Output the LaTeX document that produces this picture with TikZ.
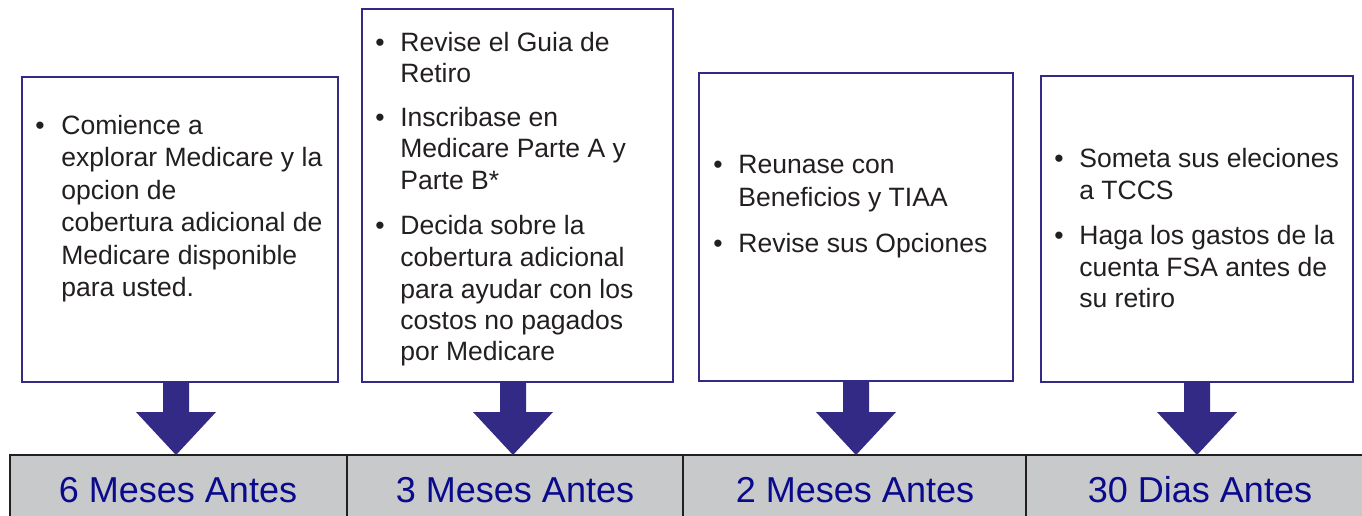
\documentclass[tikz,border=0pt]{standalone}
\usepackage{fontspec}
\setmainfont{Liberation Sans}
\definecolor{boxline}{RGB}{51,42,134}
\definecolor{txt}{RGB}{35,31,32}
\definecolor{lab}{RGB}{10,10,140}
\definecolor{band}{RGB}{200,201,203}
\definecolor{bandline}{RGB}{35,31,32}
\tikzset{
  stagebox/.style={draw=boxline, line width=1.2pt, fill=white},
  ln/.style={anchor=base west, inner sep=0pt, text=txt, font=\fontsize{15.1}{18}\selectfont},
  bul/.style={anchor=base west, inner sep=0pt, text=txt, font=\fontsize{15.1}{18}\selectfont},
  downarrow/.style={fill=boxline, draw=none},
  cell/.style={draw=bandline, line width=1.2pt, fill=band},
  lbl/.style={inner sep=0pt, anchor=base, text=lab, font=\fontsize{20.5}{24}\selectfont}
}
\begin{document}
\begin{tikzpicture}[x=0.02cm, y=-0.02cm]
\useasboundingbox (0,0) rectangle (1362,515);
% bottom band
\draw[cell] (10,455) rectangle (347,530);
\draw[cell] (347,455) rectangle (683,530);
\draw[cell] (683,455) rectangle (1026,530);
\draw[cell] (1026,455) rectangle (1370,530);
\node[lbl] (l1) at (178,502) {6 Meses Antes};
\node[lbl] (l2) at (515,502) {3 Meses Antes};
\node[lbl] (l3) at (855,502) {2 Meses Antes};
\node[lbl] (l4) at (1200,502) {30 Dias Antes};
% arrows
\foreach \c/\n in {176/a1,513/a2,856/a3,1197/a4}{
  \fill[downarrow] (\c-13,381) -- (\c+13,381) -- (\c+13,412) -- (\c+40,412)
    -- (\c,455) -- (\c-40,412) -- (\c-13,412) -- cycle;
}
% boxes
\draw[stagebox] (22,77) rectangle (338,382);
\draw[stagebox] (362,9) rectangle (673,382);
\draw[stagebox] (699,73) rectangle (1013,381);
\draw[stagebox] (1041,76) rectangle (1353,382);
% box 1
\node[bul] (b1a) at (35,134) {•};
\node[ln] (t1a) at (61,134) {Comience a};
\node[ln] (t1b) at (61,166) {explorar Medicare y la};
\node[ln] (t1c) at (61,199) {opcion de};
\node[ln] (t1d) at (61,231) {cobertura adicional de};
\node[ln] (t1e) at (61,264) {Medicare disponible};
\node[ln] (t1f) at (61,296) {para usted.};
% box 2
\node[bul] (b2a) at (375,51) {•};
\node[ln] (t2a) at (400,51) {Revise el Guia de};
\node[ln] (t2b) at (400,82) {Retiro};
\node[bul] (b2b) at (375,126) {•};
\node[ln] (t2c) at (400,126) {Inscribase en};
\node[ln] (t2d) at (400,157) {Medicare Parte A y};
\node[ln] (t2e) at (400,189) {Parte B*};
\node[bul] (b2c) at (375,234) {•};
\node[ln] (t2f) at (400,234) {Decida sobre la};
\node[ln] (t2g) at (400,266) {cobertura adicional};
\node[ln] (t2h) at (400,298) {para ayudar con los};
\node[ln] (t2i) at (400,329) {costos no pagados};
\node[ln] (t2j) at (400,360) {por Medicare};
% box 3
\node[bul] (b3a) at (713,173) {•};
\node[ln] (t3a) at (738,173) {Reunase con};
\node[ln] (t3b) at (738,206) {Beneficios y TIAA};
\node[bul] (b3b) at (713,252) {•};
\node[ln] (t3c) at (738,252) {Revise sus Opciones};
% box 4
\node[bul] (b4a) at (1054,167) {•};
\node[ln] (t4a) at (1079,167) {Someta sus eleciones};
\node[ln] (t4b) at (1079,199) {a TCCS};
\node[bul] (b4b) at (1054,244) {•};
\node[ln] (t4c) at (1079,244) {Haga los gastos de la};
\node[ln] (t4d) at (1079,276) {cuenta FSA antes de};
\node[ln] (t4e) at (1079,307) {su retiro};
\end{tikzpicture}
\end{document}
